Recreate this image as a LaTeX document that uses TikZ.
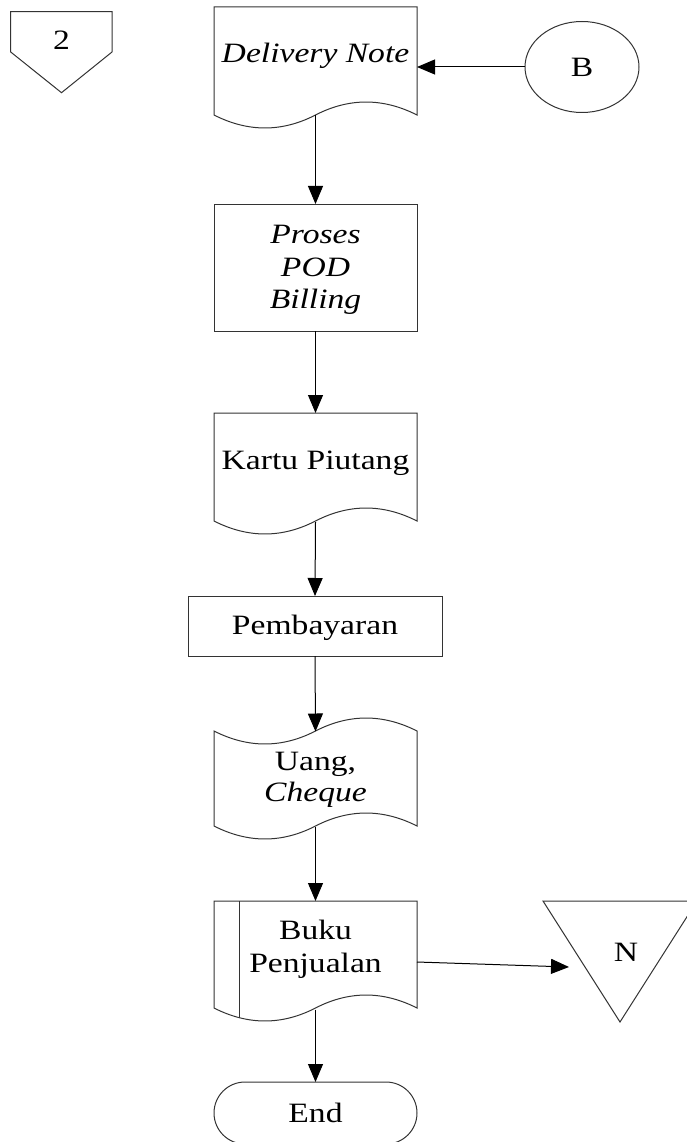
\documentclass[tikz,border=0pt]{standalone}
\usepackage{fontspec}
\setmainfont{Liberation Serif}[FakeStretch=1.2]
\usetikzlibrary{arrows.meta,calc,shapes.geometric}
\begin{document}
\begin{tikzpicture}[x=1pt,y=-1pt,
  outline/.style={draw=black!80, line width=1pt},
  shp/.style={draw=none, inner sep=0pt, outer sep=0pt, rectangle},
  box/.style={outline, inner sep=0pt, outer sep=0pt, rectangle},
  txt/.style={inner sep=0pt, anchor=base, font=\fontsize{28}{32}\selectfont},
  itxt/.style={inner sep=0pt, anchor=base, font=\fontsize{28}{32}\selectfont\itshape},
  arr/.style={draw=black, line width=1pt, -{Triangle[length=18pt,width=15pt]}}]
\useasboundingbox (0,0) rectangle (686,1142);

% off-page connector 2
\node[shp, minimum width=101pt, minimum height=81pt] (p2) at (61.5,52) {};
\draw[outline] (10.7,11.7) -- (112,11.7) -- (112,52) -- (61.5,92.7) -- (10.7,52) -- cycle;
\node[txt] (p2t) at (61.5,50) {2};

% Delivery Note (document)
\node[shp, minimum width=203pt, minimum height=108pt] (dn) at (315.5,61) {};
\draw[outline] (214,7) -- (417,7) -- (417,115)
  .. controls (383,97.7) and (349,97.7) .. (315.5,115)
  .. controls (282,132.3) and (248,132.3) .. (214,115) -- cycle;
\node[itxt] (dnt) at (315.5,63) {Delivery Note};

% B connector
\node[outline, ellipse, minimum width=114pt, minimum height=91pt, inner sep=0pt,
  font=\fontsize{28}{32}\selectfont] (b) at (582,67) {B};

% Proses POD Billing
\node[box, minimum width=203pt, minimum height=127pt] (pr) at (315.5,267.5) {};
\node[itxt] (pr1) at (315.5,243) {Proses};
\node[itxt] (pr2) at (315.5,276) {POD};
\node[itxt] (pr3) at (315.5,308) {Billing};

% Kartu Piutang (document)
\node[shp, minimum width=203pt, minimum height=108pt] (kt) at (315.5,467) {};
\draw[outline] (214,413) -- (417,413) -- (417,521)
  .. controls (383,503.7) and (349,503.7) .. (315.5,521)
  .. controls (282,538.3) and (248,538.3) .. (214,521) -- cycle;
\node[txt] (ktt) at (315.5,469) {Kartu Piutang};

% Pembayaran
\node[box, minimum width=254pt, minimum height=60pt] (pb) at (315,626) {};
\node[txt] (pbt) at (315,634) {Pembayaran};

% Uang, Cheque (punched tape)
\node[shp, minimum width=203pt, minimum height=96pt] (ug) at (315.5,779) {};
\draw[outline] (214,731) .. controls (248,748.3) and (282,748.3) .. (315.5,731)
  .. controls (349,713.7) and (383,713.7) .. (417,731) -- (417,826)
  .. controls (383,808.7) and (349,808.7) .. (315.5,826)
  .. controls (282,843.3) and (248,843.3) .. (214,826) -- cycle;
\node[txt] (ug1) at (315.5,770) {Uang,};
\node[itxt] (ug2) at (315.5,801.5) {Cheque};

% Buku Penjualan (document with bar)
\node[shp, minimum width=203pt, minimum height=108pt] (bk) at (315.5,955) {};
\draw[outline] (214,901) -- (417,901) -- (417,1008)
  .. controls (383,990.7) and (349,990.7) .. (315.5,1008)
  .. controls (282,1025.3) and (248,1025.3) .. (214,1008) -- cycle;
\begin{scope}
  \clip (214,901) -- (417,901) -- (417,1008)
  .. controls (383,990.7) and (349,990.7) .. (315.5,1008)
  .. controls (282,1025.3) and (248,1025.3) .. (214,1008) -- cycle;
  \draw[outline] (239,895) -- (239,1040);
\end{scope}
\node[txt] (bk1) at (315.5,939) {Buku};
\node[txt] (bk2) at (315.5,972) {Penjualan};

% N (off-line storage)
\node[shp, minimum width=102pt, minimum height=60pt] (nn) at (620,961) {};
\draw[outline] (543,901) -- (697,901) -- (620,1022) -- cycle;
\node[txt] (nnt) at (626,961) {N};

% End (terminator)
\node[box, rounded corners=31pt, minimum width=203pt, minimum height=62pt] (en) at (315.5,1113) {};
\node[txt] (ent) at (315.5,1122) {End};

% connectors
\draw[arr] (b.west) -- (b.west -| dn.east);
\draw[arr] (dn.south) -- (pr.north);
\draw[arr] (pr.south) -- (kt.north);
\draw[arr] ([yshift=-1pt]kt.south) -- (pb.north);
\draw[arr] (pb.south) -- ([yshift=-0.5pt]ug.north);
\draw[arr] (ug.south) -- (bk.north);
\draw[arr] ([yshift=-0.5pt]bk.south) -- (en.north);
\draw[arr] ([yshift=-7pt]bk.east) -- ([yshift=-6pt]nn.west);
\end{tikzpicture}
\end{document}
